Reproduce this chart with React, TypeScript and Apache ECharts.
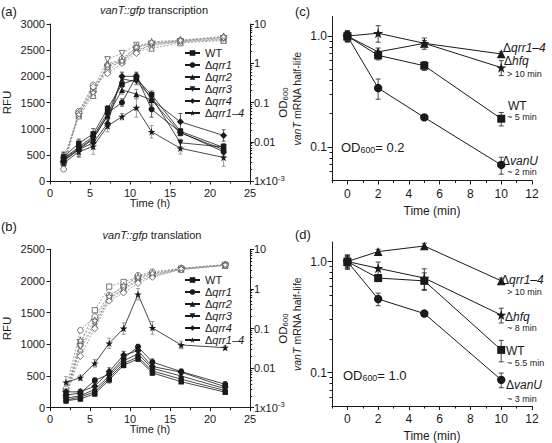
import React, { useEffect, useRef } from "react";
import * as echarts from "echarts";

const FONT = '"Liberation Sans", Arial, Helvetica, sans-serif';
const INK = "#1a1a1a";
const STAR =
  "path://M50,0 L61.8,35.3 L98.9,35.3 L69,57.4 L80.4,92.7 L50,70.9 L19.6,92.7 L31,57.4 L1.1,35.3 L38.2,35.3 Z";

// ---------- Panel (a): vanT::gfp transcription ----------
const strains = ["WT", "Δqrr1", "Δqrr2", "Δqrr3", "Δqrr4", "Δqrr1–4"];
const timeA = [1.7, 3.6, 5.4, 7.2, 9.0, 10.8, 12.7, 16.3, 21.7];
const rfuA_WT = [460, 720, 900, 1380, 1850, 1950, 1650, 950, 640];
const rfuA_qrr1 = [430, 650, 850, 1300, 1500, 2000, 1370, 930, 560];
const rfuA_qrr2 = [420, 620, 820, 1250, 1740, 1660, 1550, 920, 600];
const rfuA_qrr3 = [400, 600, 800, 1250, 1950, 1900, 1600, 730, 650];
const rfuA_qrr4 = [380, 600, 730, 1100, 2000, 2000, 1550, 1130, 870];
const rfuA_qrr14 = [340, 560, 660, 1050, 1230, 1400, 940, 625, 450];
const errA_WT = [90, 80, 100, 60, 60, 60, 70, 50, 70];
const errA_qrr1 = [120, 60, 70, 60, 70, 60, 150, 60, 60];
const errA_qrr2 = [110, 70, 80, 60, 80, 90, 60, 60, 50];
const errA_qrr3 = [80, 90, 80, 70, 60, 60, 70, 70, 60];
const errA_qrr4 = [130, 130, 120, 90, 80, 80, 100, 160, 110];
const errA_qrr14 = [120, 110, 150, 110, 60, 180, 120, 110, 170];
const odA_WT = [0.003, 0.05, 0.2, 0.8, 1.1, 2.2, 2.8, 3.5, 4.0];
const odA_qrr1 = [0.002, 0.06, 0.28, 0.6, 1.3, 2.5, 3.2, 3.8, 4.5];
const odA_qrr2 = [0.003, 0.045, 0.15, 1.0, 1.2, 2.0, 2.4, 3.3, 3.8];
const odA_qrr3 = [0.0035, 0.05, 0.22, 1.25, 1.8, 2.9, 3.0, 3.6, 4.2];
const odA_qrr4 = [0.003, 0.055, 0.25, 0.55, 1.0, 1.8, 3.3, 3.7, 4.6];
const odA_qrr14 = [0.003, 0.05, 0.18, 0.9, 1.15, 2.6, 3.5, 3.9, 4.8];

// ---------- Panel (b): vanT::gfp translation ----------
const timeB = [2.0, 3.8, 5.6, 7.4, 9.2, 11.0, 12.8, 16.4, 21.9];
const rfuB_WT = [110, 140, 220, 440, 670, 770, 550, 410, 245];
const rfuB_qrr1 = [200, 230, 430, 530, 780, 960, 720, 570, 370];
const rfuB_qrr2 = [150, 190, 290, 500, 740, 850, 620, 500, 300];
const rfuB_qrr3 = [120, 170, 250, 470, 700, 800, 580, 450, 270];
const rfuB_qrr4 = [250, 250, 340, 570, 830, 900, 650, 560, 330];
const rfuB_qrr14 = [400, 474, 700, 1016, 1250, 1790, 1260, 990, 947];
const errB_WT = [40, 40, 40, 50, 40, 40, 40, 30, 30];
const errB_qrr1 = [50, 60, 40, 60, 50, 40, 50, 40, 40];
const errB_qrr2 = [40, 40, 50, 60, 50, 50, 50, 30, 30];
const errB_qrr3 = [40, 40, 50, 50, 40, 50, 50, 30, 30];
const errB_qrr4 = [60, 40, 50, 60, 60, 50, 60, 40, 40];
const errB_qrr14 = [90, 40, 60, 80, 90, 90, 100, 60, 30];
const odB_WT = [0.002, 0.04, 0.29, 1.14, 1.5, 2.0, 2.4, 3.2, 4.0];
const odB_qrr1 = [0.003, 0.09, 0.2, 0.7, 1.1, 2.2, 2.7, 3.3, 4.1];
const odB_qrr2 = [0.002, 0.03, 0.12, 0.6, 1.0, 1.8, 2.3, 3.1, 3.9];
const odB_qrr3 = [0.0025, 0.035, 0.14, 0.55, 0.95, 1.6, 2.1, 3.2, 4.0];
const odB_qrr4 = [0.002, 0.02, 0.1, 0.5, 0.8, 1.4, 2.0, 3.1, 4.0];
const odB_qrr14 = [0.0025, 0.05, 0.16, 0.65, 1.2, 2.0, 2.5, 3.3, 4.1];

// ---------- Panels (c), (d): vanT mRNA half-life ----------
const timeCD = [0, 2, 5, 10];
const c_vanU = [1.0, 0.34, 0.185, 0.069];
const c_WT = [1.0, 0.67, 0.54, 0.18];
const c_qrr14 = [1.0, 0.72, 0.86, 0.69];
const c_hfq = [1.0, 1.06, 0.86, 0.52];
const errC_vanU = [0.1, 0.07, 0.01, 0.012];
const errC_WT = [0.1, 0.06, 0.05, 0.025];
const errC_qrr14 = [0.1, 0.06, 0.05, 0.03];
const errC_hfq = [0.12, 0.18, 0.1, 0.08];
const d_vanU = [1.0, 0.46, 0.34, 0.086];
const d_WT = [1.0, 0.71, 0.67, 0.16];
const d_qrr14 = [1.0, 1.23, 1.38, 0.67];
const d_hfq = [1.0, 0.87, 0.71, 0.33];
const errD_vanU = [0.12, 0.06, 0.02, 0.013];
const errD_WT = [0.15, 0.05, 0.12, 0.035];
const errD_qrr14 = [0.1, 0.06, 0.08, 0.04];
const errD_hfq = [0.13, 0.12, 0.15, 0.05];

const rfuTicksX = [0, 25, 5];
const logMinorAB = [0.002, 0.003, 0.004, 0.005, 0.006, 0.007, 0.008, 0.009, 0.02, 0.03, 0.04, 0.05, 0.06, 0.07, 0.08, 0.09, 0.2, 0.3, 0.4, 0.5, 0.6, 0.7, 0.8, 0.9, 2, 3, 4, 5, 6, 7, 8, 9];
const logMinorCD = [0.06, 0.07, 0.08, 0.09, 0.2, 0.3, 0.4, 0.5, 0.6, 0.7, 0.8, 0.9];
const logMajorCD = [0.1, 1];
const minMajorX = [0, 2, 4, 6, 8, 10, 12];
const minMinorX = [-1, 1, 3, 5, 7, 9, 11];

const SHAPES = [
  { symbol: "rect", rotate: 0, size: 5.5 },
  { symbol: "circle", rotate: 0, size: 6 },
  { symbol: "triangle", rotate: 0, size: 6 },
  { symbol: "triangle", rotate: 180, size: 6 },
  { symbol: "diamond", rotate: 0, size: 7 },
  { symbol: STAR, rotate: 0, size: 7.5 },
];

function errRender(color: string, cap: number) {
  return (params: any, api: any) => {
    const x = api.value(0);
    const p1 = api.coord([x, api.value(1)]);
    const p2 = api.coord([x, api.value(2)]);
    const style = { stroke: color, lineWidth: 0.8 };
    return {
      type: "group",
      children: [
        { type: "line", shape: { x1: p1[0], y1: p1[1], x2: p2[0], y2: p2[1] }, style },
        { type: "line", shape: { x1: p1[0] - cap, y1: p1[1], x2: p1[0] + cap, y2: p1[1] }, style },
        { type: "line", shape: { x1: p2[0] - cap, y1: p2[1], x2: p2[0] + cap, y2: p2[1] }, style },
      ],
    };
  };
}

function errSeries(xs: number[], ys: number[], es: number[], xi: number, yi: number, color: string, cap: number) {
  return {
    type: "custom",
    xAxisIndex: xi,
    yAxisIndex: yi,
    silent: true,
    z: 2,
    encode: { x: 0, y: [1, 2] },
    data: xs.map((t, i) => [t, ys[i] - es[i], ys[i] + es[i]]),
    renderItem: errRender(color, cap),
  };
}

function filledSeries(name: string, xs: number[], ys: number[], xi: number, yi: number, k: number, scale = 1, lw = 0.8) {
  const s = SHAPES[k];
  return {
    type: "line",
    name,
    xAxisIndex: xi,
    yAxisIndex: yi,
    silent: true,
    z: 4,
    data: xs.map((t, i) => [t, ys[i]]),
    symbol: s.symbol,
    symbolRotate: s.rotate,
    symbolSize: s.size * scale,
    lineStyle: { color: INK, width: lw },
    itemStyle: { color: INK },
  };
}

function openSeries(name: string, xs: number[], ys: number[], xi: number, yi: number, k: number) {
  const s = SHAPES[k];
  return {
    type: "line",
    name,
    xAxisIndex: xi,
    yAxisIndex: yi,
    silent: true,
    z: 3,
    data: xs.map((t, i) => [t, ys[i]]),
    symbol: s.symbol,
    symbolRotate: s.rotate,
    symbolSize: s.size * 0.95,
    lineStyle: { color: "#8a8a8a", width: 0.8, type: [2, 1.5] },
    itemStyle: { color: "#ffffff", borderColor: "#555", borderWidth: 0.8 },
  };
}

const axisLineStyle = { show: true, onZero: false, lineStyle: { color: INK, width: 1 } };
const lbl = (size: number) => ({ color: INK, fontFamily: FONT, fontSize: size });

function odFormatter(v: number) {
  const e = Math.round(Math.log10(v));
  if (e === -3) return "1x10{sup|-3}";
  if (e >= 0) return String(Math.pow(10, e));
  return Math.pow(10, e).toFixed(-e);
}

function rich(sizeMain: number) {
  return {
    i: { fontStyle: "italic", fontFamily: FONT, fontSize: sizeMain, color: INK },
    n: { fontFamily: FONT, fontSize: sizeMain, color: INK },
    sub: { fontFamily: FONT, fontSize: sizeMain * 0.68, color: INK, padding: [sizeMain * 0.45, 0, 0, 0] },
    sup: { fontFamily: FONT, fontSize: sizeMain * 0.7, color: INK, padding: [0, 0, sizeMain * 0.5, 0] },
  };
}

function txt(text: string, x: number, y: number, size: number, align = "left", italic = false) {
  return {
    type: "text",
    x,
    y,
    silent: true,
    style: {
      text,
      fill: INK,
      fontFamily: FONT,
      fontSize: size,
      fontStyle: italic ? "italic" : "normal",
      align,
      textAlign: align,
      verticalAlign: "middle",
      textVerticalAlign: "middle",
      rich: rich(size),
    },
  };
}

function buildOption() {
  const rfuA = [rfuA_WT, rfuA_qrr1, rfuA_qrr2, rfuA_qrr3, rfuA_qrr4, rfuA_qrr14];
  const errA = [errA_WT, errA_qrr1, errA_qrr2, errA_qrr3, errA_qrr4, errA_qrr14];
  const odA = [odA_WT, odA_qrr1, odA_qrr2, odA_qrr3, odA_qrr4, odA_qrr14];
  const rfuB = [rfuB_WT, rfuB_qrr1, rfuB_qrr2, rfuB_qrr3, rfuB_qrr4, rfuB_qrr14];
  const errB = [errB_WT, errB_qrr1, errB_qrr2, errB_qrr3, errB_qrr4, errB_qrr14];
  const odB = [odB_WT, odB_qrr1, odB_qrr2, odB_qrr3, odB_qrr4, odB_qrr14];

  const series: any[] = [];
  const errColors = ["#333", "#333", "#777", "#555", "#333", "#888"];
  strains.forEach((name, k) => {
    series.push(openSeries(name + " OD a", timeA, odA[k], 0, 1, k));
    series.push(errSeries(timeA, rfuA[k], errA[k], 0, 0, errColors[k], 2));
    series.push(filledSeries(name, timeA, rfuA[k], 0, 0, k));
    series.push(openSeries(name + " OD b", timeB, odB[k], 1, 4, k));
    series.push(errSeries(timeB, rfuB[k], errB[k], 1, 3, errColors[k], 2));
    series.push(filledSeries(name + " b", timeB, rfuB[k], 1, 3, k));
  });

  const cd = [
    { ys: [c_vanU, c_WT, c_qrr14, c_hfq], es: [errC_vanU, errC_WT, errC_qrr14, errC_hfq], xi: 2, yi: 6 },
    { ys: [d_vanU, d_WT, d_qrr14, d_hfq], es: [errD_vanU, errD_WT, errD_qrr14, errD_hfq], xi: 4, yi: 8 },
  ];
  const cdShapes = [1, 0, 2, 5];
  const cdScale = [1.4, 1.45, 1.45, 1.35];
  cd.forEach((p, pi) => {
    p.ys.forEach((ys, j) => {
      series.push(errSeries(timeCD, ys, p.es[j], p.xi, p.yi, INK, 2.5));
      series.push(filledSeries("cd" + pi + "-" + j, timeCD, ys, p.xi, p.yi, cdShapes[j], cdScale[j], 1));
    });
  });

  const legendBase = (top: number) => ({
    orient: "vertical",
    left: 184,
    top,
    padding: 0,
    itemWidth: 15,
    itemHeight: 7,
    itemGap: 0,
    selectedMode: false,
    data: strains,
    textStyle: { color: INK, fontFamily: FONT, fontSize: 11, lineHeight: 12, rich: rich(11) },
    formatter: (n: string) => (n === "WT" ? "{n|WT}" : "{n|Δ}{i|" + n.slice(1) + "}"),
  });

  const xAB = (gi: number) => ({
    type: "value",
    gridIndex: gi,
    min: rfuTicksX[0],
    max: rfuTicksX[1],
    interval: rfuTicksX[2],
    axisLine: axisLineStyle,
    axisTick: { show: true, length: 3.5, lineStyle: { color: INK } },
    minorTick: { show: true, splitNumber: 2, length: 2.5, lineStyle: { color: INK } },
    splitLine: { show: false },
    axisLabel: { ...lbl(11), margin: 6 },
    name: "Time (h)",
    nameLocation: "middle",
    nameGap: 16,
    nameMoveOverlap: false,
    nameTextStyle: lbl(11),
  });
  const xCD = (gi: number) => ({
    type: "value",
    gridIndex: gi,
    min: -1,
    max: 12,
    axisLine: axisLineStyle,
    axisTick: { show: true, length: 4, customValues: minMajorX, lineStyle: { color: INK } },
    splitLine: { show: false },
    axisLabel: { ...lbl(12), margin: 7, customValues: minMajorX },
    name: "Time (min)",
    nameLocation: "middle",
    nameGap: 24,
    nameMoveOverlap: false,
    nameTextStyle: lbl(12),
  });
  const xCDminor = (gi: number) => ({
    type: "value",
    gridIndex: gi,
    min: -1,
    max: 12,
    position: "bottom",
    axisLine: { show: false, onZero: false },
    axisTick: { show: true, length: 2.5, customValues: minMinorX, lineStyle: { color: INK } },
    splitLine: { show: false },
    axisLabel: { show: false },
  });
  const yRFU = (gi: number, max: number) => ({
    type: "value",
    gridIndex: gi,
    min: 0,
    max,
    interval: 500,
    position: "left",
    axisLine: axisLineStyle,
    axisTick: { show: true, length: 3.5, lineStyle: { color: INK } },
    splitLine: { show: false },
    axisLabel: { ...lbl(11), margin: 5, formatter: (v: number) => String(v) },
    name: "RFU",
    nameLocation: "middle",
    nameGap: 37,
    nameRotate: 90,
    nameMoveOverlap: false,
    nameTextStyle: lbl(11.5),
  });
  const yOD = (gi: number) => ({
    type: "log",
    logBase: 10,
    gridIndex: gi,
    min: 0.001,
    max: 10,
    position: "right",
    axisLine: axisLineStyle,
    axisTick: { show: true, length: 4, lineStyle: { color: INK } },
    splitLine: { show: false },
    axisLabel: { ...lbl(11), margin: 4, formatter: odFormatter, rich: rich(11) },
    name: "OD{sub|600}",
    nameLocation: "middle",
    nameGap: 26.5,
    nameRotate: 90,
    nameMoveOverlap: false,
    nameTextStyle: { ...lbl(11.5), rich: rich(11.5) },
  });
  const yODminor = (gi: number) => ({
    type: "log",
    logBase: 10,
    gridIndex: gi,
    min: 0.001,
    max: 10,
    position: "right",
    axisLine: { show: false, onZero: false },
    axisTick: { show: true, length: 2.2, customValues: logMinorAB, lineStyle: { color: INK } },
    splitLine: { show: false },
    axisLabel: { show: false },
  });
  const yHL = (gi: number) => ({
    type: "log",
    logBase: 10,
    gridIndex: gi,
    min: 0.05,
    max: 1.5,
    position: "left",
    axisLine: axisLineStyle,
    axisTick: { show: true, length: 4.5, customValues: logMajorCD, lineStyle: { color: INK } },
    splitLine: { show: false },
    axisLabel: {
      ...lbl(12),
      margin: 5,
      customValues: logMajorCD,
      formatter: (v: number) => (Math.round(Math.log10(v)) === 0 ? "1.0" : "0.1"),
    },
    name: "{i|vanT} mRNA half-life",
    nameLocation: "middle",
    nameGap: 30,
    nameRotate: 90,
    nameMoveOverlap: false,
    nameTextStyle: { ...lbl(10.5), rich: rich(10.5) },
  });
  const yHLminor = (gi: number) => ({
    type: "log",
    logBase: 10,
    gridIndex: gi,
    min: 0.05,
    max: 1.5,
    position: "left",
    axisLine: { show: false, onZero: false },
    axisTick: { show: true, length: 2.5, customValues: logMinorCD, lineStyle: { color: INK } },
    splitLine: { show: false },
    axisLabel: { show: false },
  });

  return {
    animation: false,
    backgroundColor: "#ffffff",
    textStyle: { fontFamily: FONT },
    grid: [
      { left: 50, top: 24, width: 200, height: 157 },
      { left: 50, top: 249.3, width: 200, height: 158.4 },
      { left: 332, top: 16.5, width: 200, height: 164 },
      { left: 332, top: 242, width: 200, height: 166 },
    ],
    xAxis: [xAB(0), xAB(1), xCD(2), xCDminor(2), xCD(3), xCDminor(3)],
    yAxis: [
      yRFU(0, 3000),
      yOD(0),
      yODminor(0),
      yRFU(1, 2500),
      yOD(1),
      yODminor(1),
      yHL(2),
      yHLminor(2),
      yHL(3),
      yHLminor(3),
    ],
    legend: [legendBase(47), legendBase(274)],
    series,
    graphic: [
      txt("(a)", 1, 11, 13),
      txt("{i|vanT::gfp} transcription", 154, 10, 11, "center"),
      txt("(b)", 1, 226, 13),
      txt("{i|vanT::gfp} translation", 152, 235, 11, "center"),
      txt("(c)", 295, 11, 13),
      txt("(d)", 295, 234, 13),
      // panel (c) annotations
      txt("{n|Δ}{i|qrr1–4}", 503, 48, 12),
      txt("{n|Δ}{i|hfq}", 504, 60.5, 12),
      txt("> 10 min", 507, 74, 9),
      txt("WT", 508, 106, 12),
      txt("~ 5 min", 507, 117, 9),
      txt("{n|Δ}{i|vanU}", 502, 161, 12),
      txt("~ 2 min", 507, 172, 9),
      txt("OD{sub|600}{n|= 0.2}", 341, 147, 13),
      // panel (d) annotations
      txt("{n|Δ}{i|qrr1–4}", 501, 280, 12),
      txt("> 10 min", 507, 292, 9),
      txt("{n|Δ}{i|hfq}", 505, 317, 12),
      txt("~ 8 min", 507, 327.5, 9),
      txt("WT", 506, 351, 12),
      txt("~ 5.5 min", 507, 363, 9),
      txt("{n|Δ}{i|vanU}", 506, 385, 12),
      txt("~ 3 min", 507, 399, 9),
      txt("OD{sub|600}{n|= 1.0}", 343, 375, 13),
    ],
  };
}

export default function App() {
  const ref = useRef<HTMLDivElement>(null);
  useEffect(() => {
    if (!ref.current) return;
    const chart = echarts.init(ref.current, undefined, { renderer: "svg" });
    chart.setOption(buildOption() as any);
    return () => chart.dispose();
  }, []);
  return (
    <div
      ref={ref}
      style={{ position: "fixed", left: 0, top: 0, width: 552, height: 443, background: "#fff" }}
    />
  );
}
